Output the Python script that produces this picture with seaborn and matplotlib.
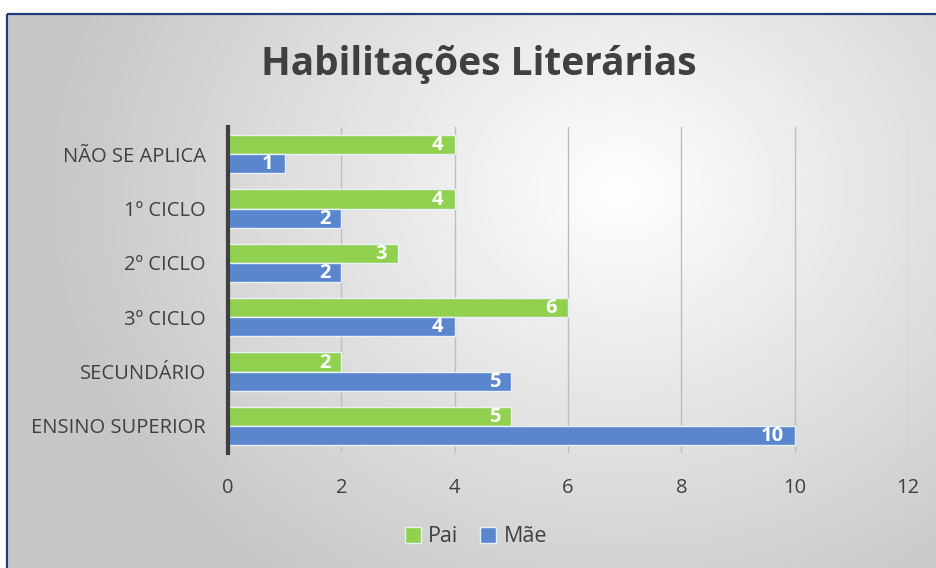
import numpy as np
import pandas as pd
import matplotlib.pyplot as plt
import seaborn as sns
from matplotlib.patches import Rectangle

# -----------------------------
# DATA
# -----------------------------
categories = ["NÃO SE APLICA", "1º CICLO", "2º CICLO", "3º CICLO", "SECUNDÁRIO", "ENSINO SUPERIOR"]
pai = [4, 4, 3, 6, 2, 5]
mae = [1, 2, 2, 4, 5, 10]
series_names = ["Pai", "Mãe"]
x_ticks = [0, 2, 4, 6, 8, 10, 12]

df = pd.DataFrame({
    "categoria": categories * 2,
    "valor": pai + mae,
    "serie": [series_names[0]] * len(categories) + [series_names[1]] * len(categories),
})

sns.set_style("white")
plt.rcParams["font.family"] = ["Open Sans", "DejaVu Sans"]

fig = plt.figure(figsize=(9.37, 5.68), dpi=100)

# background: radial gradient inside a dark blue frame
bg = fig.add_axes([0, 0, 1, 1], zorder=-10)
yy, xx = np.mgrid[0:568, 0:937]
r = np.sqrt(((xx - 620) / 620) ** 2 + ((yy - 190) / 520) ** 2)
shade = np.clip(1.0 - 0.24 * r, 0.78, 1.0)
img = np.dstack([shade, shade, shade])
bg.imshow(img, extent=[0, 937, 568, 0], aspect="auto")
bg.add_patch(Rectangle((0, 0), 937, 13, color="white", zorder=2))
bg.add_patch(Rectangle((0, 0), 7, 568, color="white", zorder=2))
bg.add_patch(Rectangle((7.5, 13.5), 935, 570, fill=False, edgecolor="#1F3C7C", lw=1.6, zorder=3))
bg.set_xlim(0, 937)
bg.set_ylim(568, 0)
bg.axis("off")

ax = fig.add_axes([228 / 937, 1 - 453 / 568, 680 / 937, 326 / 568])
ax.set_facecolor("none")

sns.barplot(
    data=df, y="categoria", x="valor", hue="serie", orient="h",
    palette={"Pai": "#92D050", "Mãe": "#5A86CD"}, saturation=1,
    width=0.7, edgecolor="#E8F0F8", linewidth=1.0, ax=ax, legend=True,
)

for container in ax.containers:
    for bar in container:
        w = bar.get_width()
        ax.annotate(f"{w:g}", (w, bar.get_y() + bar.get_height() / 2),
                    xytext=(-8, -0.5), textcoords="offset points",
                    ha="right", va="center", color="white",
                    fontsize=14.5, fontweight="bold")

ax.set_xlim(0, 12)
ax.set_xticks(x_ticks)
ax.set_xticklabels([str(t) for t in x_ticks])
ax.set_xlabel("")
ax.set_ylabel("")
ax.xaxis.grid(True, color="#BDBDBD", lw=1)
ax.set_axisbelow(True)
for s in ["top", "right", "bottom"]:
    ax.spines[s].set_visible(False)
ax.spines["left"].set_color("#404040")
ax.spines["left"].set_linewidth(3)
ax.tick_params(axis="both", length=0, labelsize=14.5, colors="#404040")
ax.tick_params(axis="x", pad=18)
ax.tick_params(axis="y", pad=16)

handles, labels = ax.get_legend_handles_labels()
ax.get_legend().remove()
fig.legend(handles, labels, loc="center", bbox_to_anchor=(476 / 937, 1 - 537 / 568),
           ncol=2, frameon=False, fontsize=15.5, handlelength=0.75, handleheight=0.75,
           handletextpad=0.35, columnspacing=1.0, labelcolor="#404040")

fig.text(479 / 937, 1 - 65 / 568, "Habilitações Literárias", ha="center", va="center",
         fontsize=28, fontweight="bold", color="#404040")

fig.savefig("out.png", dpi=100)
